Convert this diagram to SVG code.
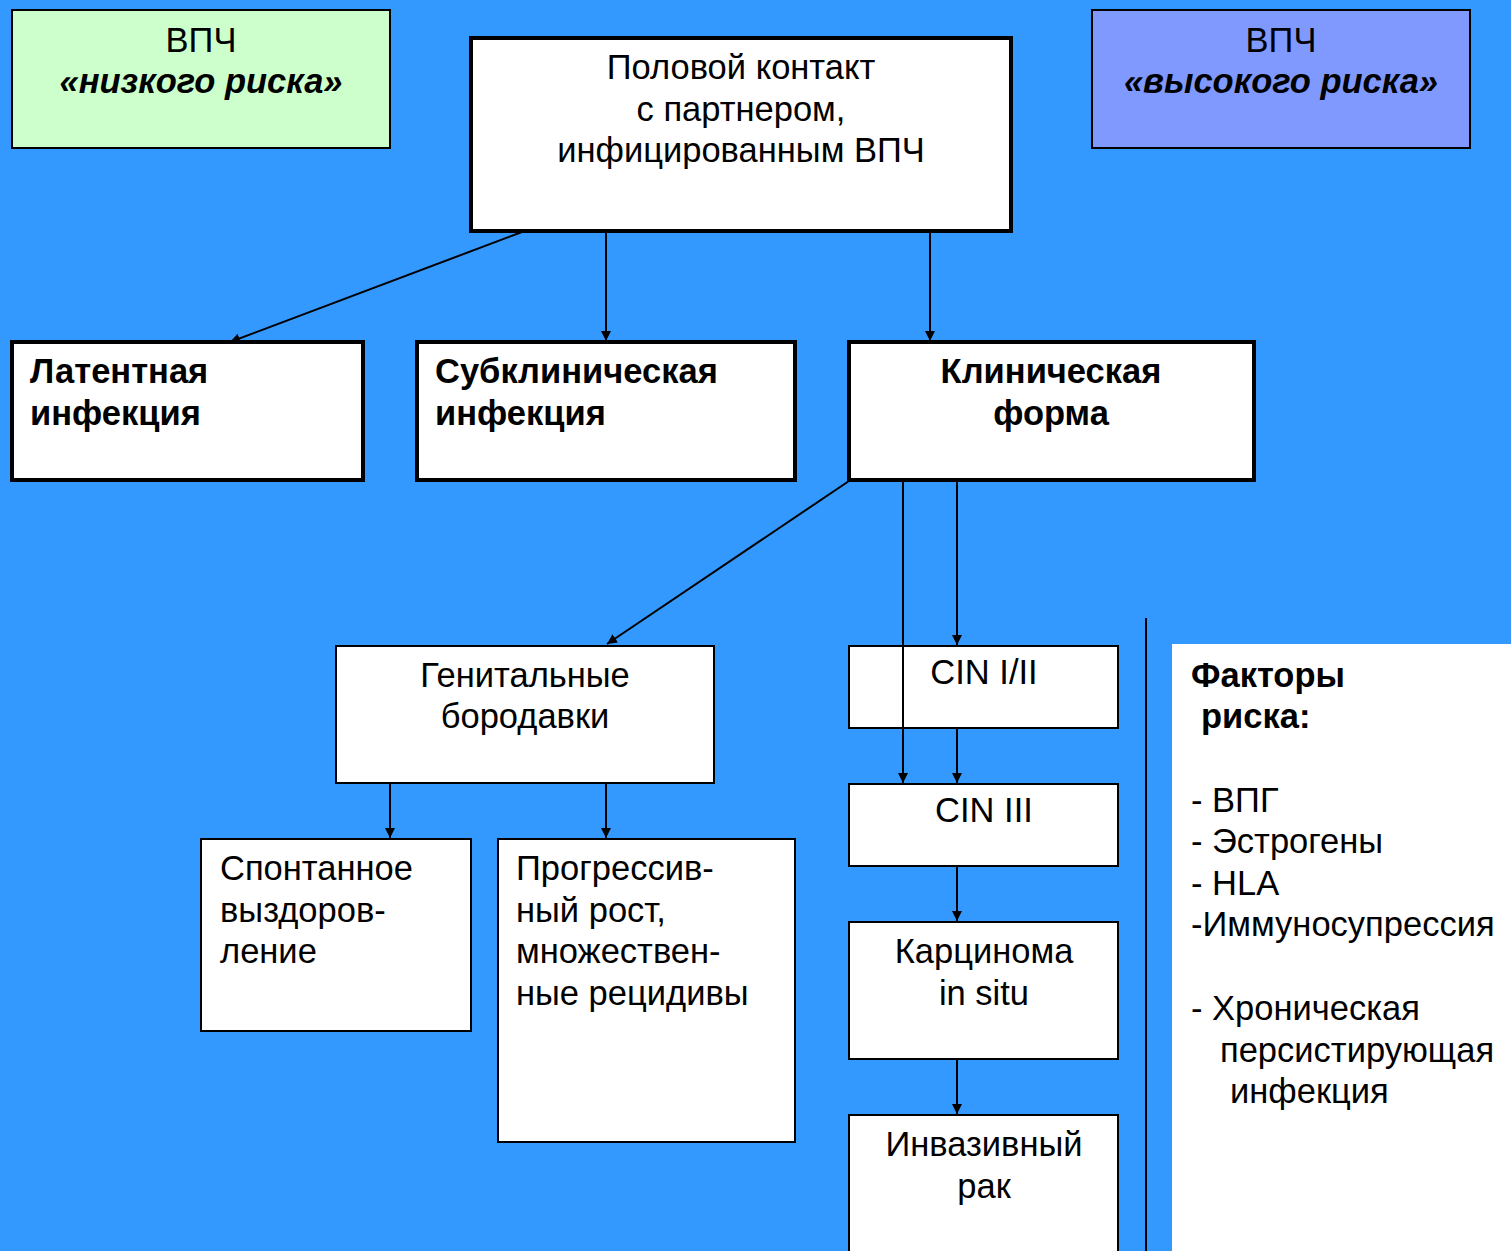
<svg xmlns="http://www.w3.org/2000/svg" width="1511" height="1251" viewBox="0 0 1511 1251">
<defs>
<marker id="ah" viewBox="0 0 10 10" refX="10" refY="5" markerWidth="10" markerHeight="10" markerUnits="userSpaceOnUse" orient="auto">
<path d="M0,0 L10,5 L0,10 Z" fill="#000"/>
</marker>
<style>
text{font-family:"Liberation Sans",Arial,sans-serif;font-size:34.5px;fill:#000}
.b{font-weight:bold}
.bi{font-weight:bold;font-style:italic}
.m{text-anchor:middle}
.thick{fill:#fff;stroke:#000;stroke-width:4}
.thin{fill:#fff;stroke:#000;stroke-width:2}
.c line{stroke:#000;stroke-width:2;marker-end:url(#ah)}
</style>
</defs>
<rect width="1511" height="1251" fill="#3399FF"/>
<rect x="1172" y="644" width="339" height="607" fill="#fff"/>
<line x1="1146" y1="618" x2="1146" y2="1251" stroke="#000" stroke-width="2"/>

<g id="low-risk">
<rect x="12" y="10" width="378" height="138" fill="#CCFFCC" stroke="#000" stroke-width="2"/>
<text x="201" y="52" class="m">ВПЧ</text>
<text x="201" y="93" class="m bi">«низкого риска»</text>
</g>
<g id="high-risk">
<rect x="1092" y="10" width="378" height="138" fill="#8099FF" stroke="#000" stroke-width="2"/>
<text x="1281" y="52" class="m">ВПЧ</text>
<text x="1281" y="93" class="m bi">«высокого риска»</text>
</g>
<g id="contact">
<rect x="471" y="38" width="540" height="193" class="thick"/>
<text x="741" y="79" class="m">Половой контакт</text>
<text x="741" y="121" class="m">с партнером,</text>
<text x="741" y="162" class="m">инфицированным ВПЧ</text>
</g>
<g id="latent">
<rect x="12" y="342" width="351" height="138" class="thick"/>
<text x="30" y="383" class="b">Латентная</text>
<text x="30" y="425" class="b">инфекция</text>
</g>
<g id="subclinical">
<rect x="417" y="342" width="378" height="138" class="thick"/>
<text x="435" y="383" class="b">Субклиническая</text>
<text x="435" y="425" class="b">инфекция</text>
</g>
<g id="clinical">
<rect x="849" y="342" width="405" height="138" class="thick"/>
<text x="1051" y="383" class="m b">Клиническая</text>
<text x="1051" y="425" class="m b">форма</text>
</g>
<g id="warts">
<rect x="336" y="646" width="378" height="137" class="thin"/>
<text x="525" y="687" class="m">Генитальные</text>
<text x="525" y="728" class="m">бородавки</text>
</g>
<g id="cin12">
<rect x="849" y="646" width="269" height="82" class="thin"/>
<text x="984" y="684" class="m">CIN I/II</text>
</g>
<g id="cin3">
<rect x="849" y="784" width="269" height="82" class="thin"/>
<text x="984" y="822" class="m">CIN III</text>
</g>
<g id="carcinoma">
<rect x="849" y="922" width="269" height="137" class="thin"/>
<text x="984" y="963" class="m">Карцинома</text>
<text x="984" y="1005" class="m">in situ</text>
</g>
<g id="invasive">
<rect x="849" y="1115" width="269" height="150" class="thin"/>
<text x="984" y="1156" class="m">Инвазивный</text>
<text x="984" y="1198" class="m">рак</text>
</g>
<g id="spontaneous">
<rect x="201" y="839" width="270" height="192" class="thin"/>
<text x="220" y="880">Спонтанное</text>
<text x="220" y="922">выздоров-</text>
<text x="220" y="963">ление</text>
</g>
<g id="progressive">
<rect x="498" y="839" width="297" height="303" class="thin"/>
<text x="516" y="880">Прогрессив-</text>
<text x="516" y="922">ный рост,</text>
<text x="516" y="963">множествен-</text>
<text x="516" y="1005">ные рецидивы</text>
</g>
<g id="risk-factors">
<text x="1191" y="687" class="b">Факторы</text>
<text x="1201" y="728" class="b">риска:</text>
<text x="1191" y="812">- ВПГ</text>
<text x="1191" y="853">- Эстрогены</text>
<text x="1191" y="895">- HLA</text>
<text x="1191" y="936">-Иммуносупрессия</text>
<text x="1191" y="1020">- Хроническая</text>
<text x="1220" y="1062">персистирующая</text>
<text x="1230" y="1103">инфекция</text>
</g>
<g id="connectors" class="c">
<line x1="522" y1="232" x2="230" y2="342"/>
<line x1="606" y1="232" x2="606" y2="341"/>
<line x1="930" y1="232" x2="930" y2="341"/>
<line x1="849" y1="481" x2="607" y2="644"/>
<line x1="903" y1="481" x2="903" y2="783"/>
<line x1="957" y1="481" x2="957" y2="645"/>
<line x1="957" y1="729" x2="957" y2="783"/>
<line x1="957" y1="867" x2="957" y2="921"/>
<line x1="957" y1="1060" x2="957" y2="1114"/>
<line x1="390" y1="784" x2="390" y2="838"/>
<line x1="606" y1="784" x2="606" y2="838"/>
</g>
</svg>
